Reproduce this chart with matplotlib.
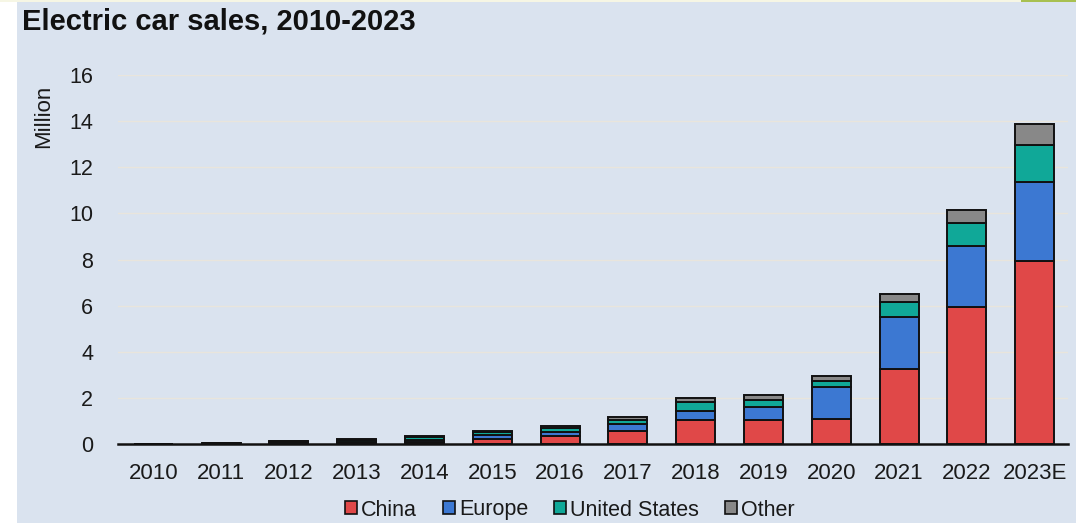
import matplotlib
matplotlib.use("Agg")
import matplotlib.pyplot as plt
import numpy as np
from matplotlib.patches import Rectangle, Patch

years = ["2010", "2011", "2012", "2013", "2014", "2015", "2016", "2017",
         "2018", "2019", "2020", "2021", "2022", "2023E"]
china = [0.005, 0.01, 0.02, 0.03, 0.08, 0.20, 0.33, 0.55, 1.05, 1.05, 1.10, 3.25, 5.95, 7.95]
europe = [0.005, 0.01, 0.05, 0.07, 0.10, 0.19, 0.21, 0.30, 0.38, 0.55, 1.38, 2.27, 2.64, 3.41]
united_states = [0.005, 0.02, 0.04, 0.08, 0.12, 0.11, 0.16, 0.20, 0.37, 0.32, 0.24, 0.65, 1.01, 1.61]
other = [0.005, 0.01, 0.02, 0.02, 0.04, 0.05, 0.07, 0.13, 0.20, 0.20, 0.25, 0.32, 0.55, 0.91]

series = [("China", china, "#e04848"),
          ("Europe", europe, "#3c78d2"),
          ("United States", united_states, "#10a898"),
          ("Other", other, "#888888")]

plt.rcParams['font.family'] = ['Liberation Sans', 'DejaVu Sans']

W, H = 1076, 523
fig = plt.figure(figsize=(W / 100, H / 100), dpi=100)
fig.patch.set_facecolor("white")
bg = "#dae3ef"
fig.patches.append(Rectangle((17 / W, 0), 1 - 17 / W, 1 - 2 / H, transform=fig.transFigure,
                             facecolor=bg, edgecolor="none", zorder=-10))
fig.patches.append(Rectangle((0, 1 - 2 / H), 1021 / W, 2 / H, transform=fig.transFigure,
                             facecolor="#f6f6e4", edgecolor="none", zorder=-10))
fig.patches.append(Rectangle((1021 / W, 1 - 2 / H), 1 - 1021 / W, 2 / H, transform=fig.transFigure,
                             facecolor="#a8c050", edgecolor="none", zorder=-10))

ax = fig.add_axes([118 / W, (H - 444) / H, (1068 - 118) / W, (444 - 75) / H])
ax.set_facecolor("none")

x = np.arange(len(years))
bottom = np.zeros(len(years))
for name, vals, col in series:
    v = np.array(vals)
    ax.bar(x, v, width=0.575, bottom=bottom, color=col, edgecolor="#111111",
           linewidth=1.4, label=name, zorder=3)
    bottom += v

ax.set_xlim(-0.52, 13.49)
ax.set_ylim(0, 16)
ax.set_yticks(np.arange(0, 17, 2))
ax.set_xticks(x)
ax.set_xticklabels(years)
ax.tick_params(axis="y", length=0, pad=18, labelsize=15.5)
ax.tick_params(axis="x", length=0, pad=14, labelsize=16)
for t in ax.get_yticklabels() + ax.get_xticklabels():
    t.set_color("#1a1a1a")
ax.grid(axis="y", color="#e9e5dc", linewidth=1.0, zorder=0)
ax.set_axisbelow(True)
for s in ["top", "right", "left"]:
    ax.spines[s].set_visible(False)
ax.spines["bottom"].set_color("#111111")
ax.spines["bottom"].set_linewidth(1.8)
ax.spines["bottom"].set_zorder(4)

fig.text(22 / W, 1 - 22 / H, "Electric car sales, 2010-2023", fontsize=21, fontweight="bold",
         ha="left", va="center", color="#111111")
fig.text(44 / W, 1 - 116 / H, "Million", rotation=90, fontsize=16, ha="center", va="center",
         color="#1a1a1a")

handles = [Patch(facecolor=c, edgecolor="#111111", linewidth=1.2) for _, _, c in series]
labels = [n for n, _, _ in series]
leg = fig.legend(handles, labels, loc="center", bbox_to_anchor=(570 / W, 1 - 510 / H),
                 ncol=4, frameon=False, fontsize=15.5, handlelength=0.55, handleheight=0.55,
                 handletextpad=0.2, columnspacing=1.2, borderpad=0)
for t in leg.get_texts():
    t.set_color("#1a1a1a")

fig.savefig("out.png", dpi=100, facecolor=fig.get_facecolor())
